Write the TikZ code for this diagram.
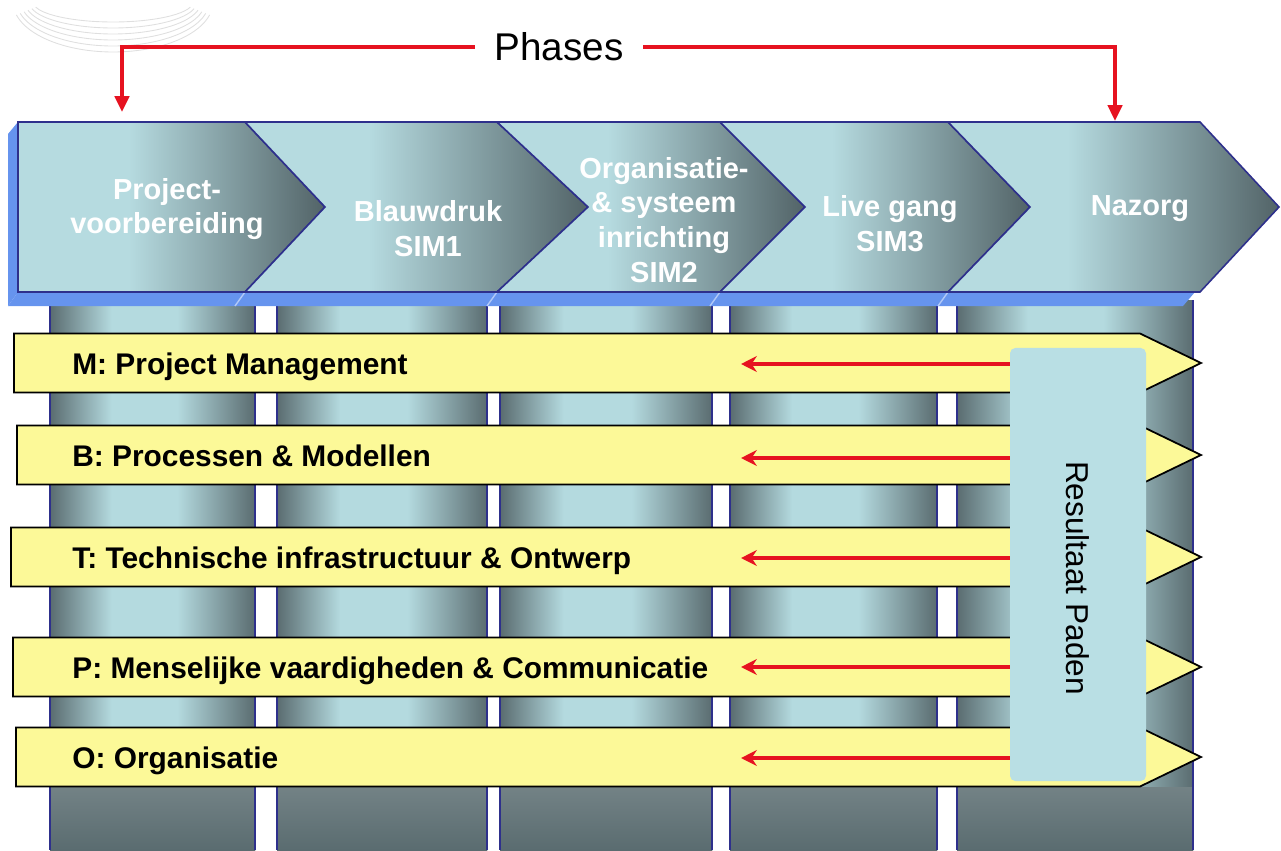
\documentclass[tikz,border=0pt]{standalone}
\usepackage{fontspec}
\setmainfont{Liberation Sans}
\usepackage{tikz}
\usetikzlibrary{positioning, arrows.meta, calc}
\definecolor{phase-light}{RGB}{182, 219, 224}
\definecolor{phase-dark}{RGB}{82, 99, 103}
\definecolor{phase-edge}{RGB}{46, 48, 140}
\definecolor{rim}{RGB}{102, 148, 238}
\definecolor{pillar-light}{RGB}{180, 218, 223}
\definecolor{pillar-dark}{RGB}{90, 108, 112}
\definecolor{lane}{RGB}{252, 249, 152}
\definecolor{result}{RGB}{185, 223, 228}
\definecolor{red-line}{RGB}{230, 18, 32}
\pgfdeclarehorizontalshading{phase}{100bp}{color(0bp)=(phase-light); color(25bp)=(phase-light); color(43bp)=(phase-light); color(75bp)=(phase-dark); color(100bp)=(phase-dark)}
\pgfdeclarehorizontalshading{pillar}{100bp}{color(0bp)=(pillar-dark); color(25bp)=(pillar-dark); color(40bp)=(pillar-light); color(56bp)=(pillar-light); color(75bp)=(pillar-dark); color(100bp)=(pillar-dark)}
\tikzstyle{phasebox} = [shading=phase, draw=phase-edge, line width=0.9pt]
\tikzstyle{phaselabel} = [text=white, align=center, inner sep=0, font=\fontsize{16.5pt}{19.8pt}\bfseries\selectfont]
\tikzstyle{pillar} = [shading=pillar, draw=none]
\tikzstyle{lanebox} = [fill=lane, draw=black, line width=1pt]
\tikzstyle{lanelabel} = [anchor=base west, inner sep=0, font=\fontsize{17pt}{17pt}\bfseries\selectfont]
\tikzstyle{connector} = [red-line, -{Triangle[length=9pt, width=8pt]}, line width=2.4pt]
\tikzstyle{arrow} = [red-line, -{Stealth[length=9pt, width=9pt, inset=3pt]}, line width=2pt]

\begin{document}
\begin{tikzpicture}[x=0.2mm, y=-0.2mm]
  \useasboundingbox (0,0) rectangle (1281,850);

  % logo arcs
  \foreach \i in {0,...,5}
    \draw[gray!25, line width=0.5pt] (113,2) ++(15:{100-4*\i} and {50-6*\i})
      arc[start angle=15, end angle=165, x radius={100-4*\i}, y radius={50-6*\i}];

  % pillars
  \foreach \a/\b in {50/255, 277/487, 500/712, 730/937, 957/1193} {
    \path[pillar] (\a,300) rectangle (\b,850);
    \fill[top color=pillar-dark!85!white, bottom color=pillar-dark] (\a,787) rectangle (\b,850);
    \draw[phase-edge, line width=0.8pt] (\a,300) -- (\a,850) (\b,300) -- (\b,850);
  }

  % band rim
  \fill[rim] (18,122) -- (8,134) -- (8,306) -- (18,292) -- cycle;
  \fill[rim] (18,292) -- (8,306) -- (1183,306) -- (1195,292) -- cycle;
  \foreach \c in {245,497,720,948}
    \draw[rim!50!white, line width=0.8pt] (\c,292) -- (\c-10,306);

  % phases
  \foreach \l/\r/\t/\n in {18/245/325/18, 245/497/588/325, 497/720/805/588, 720/948/1030/805, 948/1200/1279/1030}
    \draw[phasebox] (\l,122) -- (\r,122) -- (\t,207) -- (\r,292) -- (\l,292) -- (\n,207) -- cycle;

  \node[phaselabel] (prep)      at (167,209)  {Project-\\voorbereiding};
  \node[phaselabel] (blueprint) at (428,229)  {Blauwdruk\\SIM1};
  \node[phaselabel] (setup)     at (664,220)  {Organisatie-\\\& systeem\\inrichting\\SIM2};
  \node[phaselabel] (live)      at (890,224)  {Live gang\\SIM3};
  \node[phaselabel] (aftercare) at (1140,209) {Nazorg};

  % lanes
  \foreach \n/\y/\x/\txt in {M/363/14/{M: Project Management}, B/455/17/{B: Processen \& Modellen},
      T/557/11/{T: Technische infrastructuur \& Ontwerp}, P/667/13/{P: Menselijke vaardigheden \& Communicatie},
      O/757/16/{O: Organisatie}} {
    \draw[lanebox] (\x,\y-29.5) -- (1140,\y-29.5) -- (1201,\y) -- (1140,\y+29.5) -- (\x,\y+29.5) -- cycle;
    \node[lanelabel] (lane-\n) at (72,\y+11) {\txt};
  }

  % result paths
  \node[fill=result, rounded corners=3pt, minimum width=2.72cm, minimum height=8.66cm, inner sep=0] (result) at (1078,564.5) {};
  \node[rotate=-90, font=\fontsize{18pt}{18pt}\selectfont] (result-label) at (1078,578) {Resultaat Paden};

  % arrows
  \foreach \n/\y in {M/364, B/458, T/558, P/667, O/758} {
    \coordinate (tip-\n) at (741,\y);
    \draw[arrow] (result.west |- tip-\n) -- (tip-\n);
  }

  \node[font=\fontsize{22pt}{22pt}\selectfont, inner xsep=11pt] (phases) at (559,47) {Phases};
  \coordinate (prep-in) at (122,112);
  \coordinate (aftercare-in) at (1115,121);
  \draw[connector] (phases.west) -| (prep-in);
  \draw[connector] (phases.east) -| (aftercare-in);
\end{tikzpicture}
\end{document}
